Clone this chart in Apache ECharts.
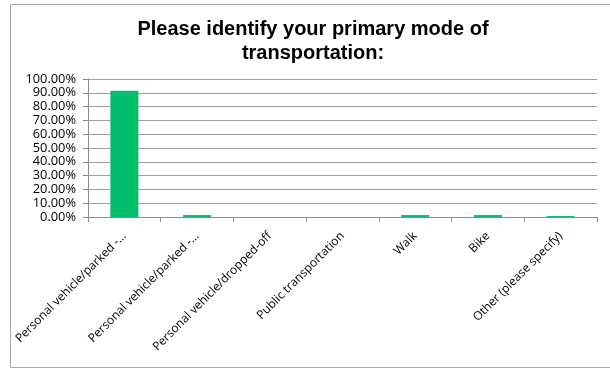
<!DOCTYPE html>
<html>
<head>
<meta charset="utf-8">
<script src="https://cdn.jsdelivr.net/npm/echarts@6/dist/echarts.min.js"></script>
<style>
html,body{margin:0;padding:0;background:#fff;}
#chart{width:610px;height:369px;}
</style>
</head>
<body>
<div id="chart"></div>
<script>
const titleText = 'Please identify your primary mode of\ntransportation:';
const categories = [
  'Personal vehicle/parked -...',
  'Personal vehicle/parked -...',
  'Personal vehicle/dropped-off',
  'Public transportation',
  'Walk',
  'Bike',
  'Other (please specify)'
];
const values = [91.55, 1.41, 0, 0, 1.41, 1.41, 0.70];
const yMin = 0, yMax = 100, yStep = 10;

const chart = echarts.init(document.getElementById('chart'), null, {renderer: 'canvas'});
const labelFont = 'Open Sans, Lato, sans-serif';
chart.setOption({
  animation: false,
  backgroundColor: '#ffffff',
  graphic: [{
    type: 'rect',
    shape: {x: 10.5, y: 4.5, width: 640, height: 363},
    style: {fill: 'none', stroke: '#a6a6a6', lineWidth: 1},
    silent: true
  }],
  title: {
    text: titleText,
    left: 308,
    textAlign: 'center',
    top: 12,
    textStyle: {
      fontFamily: 'Liberation Sans, Arial, sans-serif',
      fontWeight: 'bold',
      fontSize: 20,
      lineHeight: 24,
      color: '#000'
    }
  },
  grid: {left: 88, right: 13, top: 79, bottom: 152, containLabel: false},
  xAxis: {
    type: 'category',
    data: categories,
    axisLine: {show: true, lineStyle: {color: '#8c8c8c', width: 1}},
    axisTick: {show: true, alignWithLabel: false, length: 5, lineStyle: {color: '#8c8c8c'}},
    axisLabel: {
      interval: 0,
      rotate: 45,
      margin: 17,
      fontFamily: labelFont,
      fontSize: 12,
      color: '#000'
    },
    splitLine: {show: false}
  },
  yAxis: {
    type: 'value',
    min: yMin,
    max: yMax,
    interval: yStep,
    axisLine: {show: true, lineStyle: {color: '#8c8c8c', width: 1}},
    axisTick: {show: true, length: 5, lineStyle: {color: '#8c8c8c'}},
    axisLabel: {
      margin: 12,
      fontFamily: labelFont,
      fontSize: 12.8,
      color: '#000',
      formatter: v => v.toFixed(2) + '%'
    },
    splitLine: {show: true, lineStyle: {color: '#a0a0a0', width: 1}}
  },
  series: [{
    type: 'bar',
    data: values,
    barWidth: 28,
    itemStyle: {color: '#00BE6C'}
  }]
});
</script>
</body>
</html>
